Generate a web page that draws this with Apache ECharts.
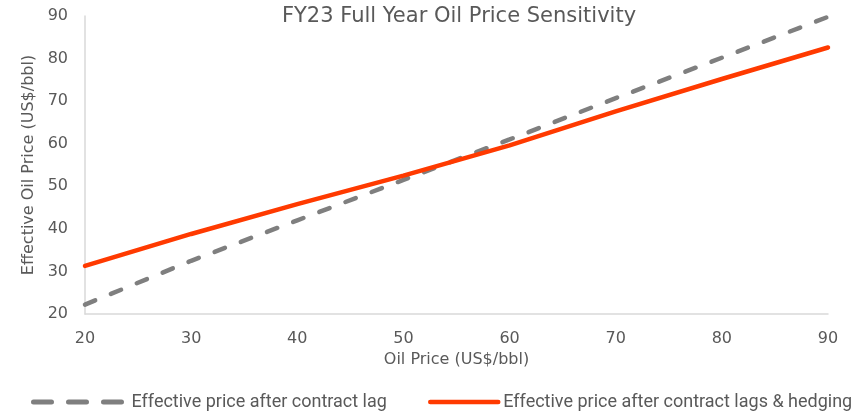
<!DOCTYPE html>
<html>
<head>
<meta charset="utf-8">
<script src="https://cdn.jsdelivr.net/npm/echarts@6/dist/echarts.min.js"></script>
<style>
  html, body { margin: 0; padding: 0; background: #ffffff; }
  #chart { width: 866px; height: 411px; }
</style>
</head>
<body>
<div id="chart"></div>
<script>
// Oil price scenarios (US$/bbl)
const oilPrices = [20, 30, 40, 50, 60, 70, 80, 90];
// Effective realised price after contract lag
const afterLag = [22.2, 32.5, 42.0, 51.5, 61.0, 70.7, 80.2, 89.8];
// Effective realised price after contract lags & hedging
const afterLagHedging = [31.3, 38.8, 45.8, 52.5, 59.6, 67.6, 75.2, 82.6];

const seriesNames = ['Effective price after contract lag', 'Effective price after contract lags & hedging'];
const titleText = 'FY23 Full Year Oil Price Sensitivity';
const xAxisName = 'Oil Price (US$/bbl)';
const yAxisName = 'Effective Oil Price (US$/bbl)';

const grey = '#7f7f7f';
const red = '#ff3a00';
const textColor = '#595959';
const axisColor = '#d9d9d9';
const font = '"DejaVu Sans", "Noto Sans", sans-serif';
const legendFont = 'Roboto, "Liberation Sans", sans-serif';

const pairs = (ys) => oilPrices.map((x, i) => [x, ys[i]]);

// hide the marker dot that line-series legend icons draw by default
const noMarker = { color: 'rgba(0,0,0,0)', borderColor: 'rgba(0,0,0,0)', borderWidth: 0 };

const chart = echarts.init(document.getElementById('chart'), null, { renderer: 'canvas' });
chart.setOption({
  animation: false,
  title: {
    text: titleText,
    left: 454,
    textAlign: 'center',
    top: 1,
    textStyle: { color: textColor, fontSize: 21, fontWeight: 'normal', fontFamily: font }
  },
  grid: { left: 85, right: 38, top: 16, bottom: 97 },
  legend: [
    {
      data: [seriesNames[0]],
      left: 26, top: 388,
      itemWidth: 93, itemHeight: 10,
      itemStyle: noMarker,
      lineStyle: { type: [18, 17], width: 5, cap: 'round' },
      textStyle: { color: textColor, fontSize: 18, fontFamily: legendFont }
    },
    {
      data: [seriesNames[1]],
      left: 423, top: 388,
      itemWidth: 68, itemHeight: 10,
      itemStyle: noMarker,
      lineStyle: { width: 4.5 },
      textStyle: { color: textColor, fontSize: 18, fontFamily: legendFont }
    }
  ],
  xAxis: {
    type: 'value',
    min: 20, max: 90, interval: 10,
    name: xAxisName,
    nameLocation: 'middle',
    nameGap: 35,
    nameTextStyle: { color: textColor, fontSize: 16, fontFamily: font },
    axisLine: { show: true, lineStyle: { color: axisColor, width: 1.5 } },
    axisTick: { show: false },
    splitLine: { show: false },
    axisLabel: { color: textColor, fontSize: 16, fontFamily: font, margin: 17 }
  },
  yAxis: {
    type: 'value',
    min: 20, max: 90, interval: 10,
    name: yAxisName,
    nameLocation: 'middle',
    nameGap: 47,
    nameTextStyle: { color: textColor, fontSize: 16, fontFamily: font },
    axisLine: { show: true, lineStyle: { color: axisColor, width: 1.5 } },
    axisTick: { show: false },
    splitLine: { show: false },
    axisLabel: { color: textColor, fontSize: 16, fontFamily: font, margin: 17 }
  },
  series: [
    {
      name: seriesNames[0],
      type: 'line',
      data: pairs(afterLag),
      symbol: 'none',
      color: grey,
      lineStyle: { color: grey, width: 4.5, type: [11, 17], cap: 'round' },
      z: 2
    },
    {
      name: seriesNames[1],
      type: 'line',
      data: pairs(afterLagHedging),
      symbol: 'none',
      color: red,
      lineStyle: { color: red, width: 4.5, cap: 'round' },
      z: 3
    }
  ]
});
</script>
</body>
</html>
